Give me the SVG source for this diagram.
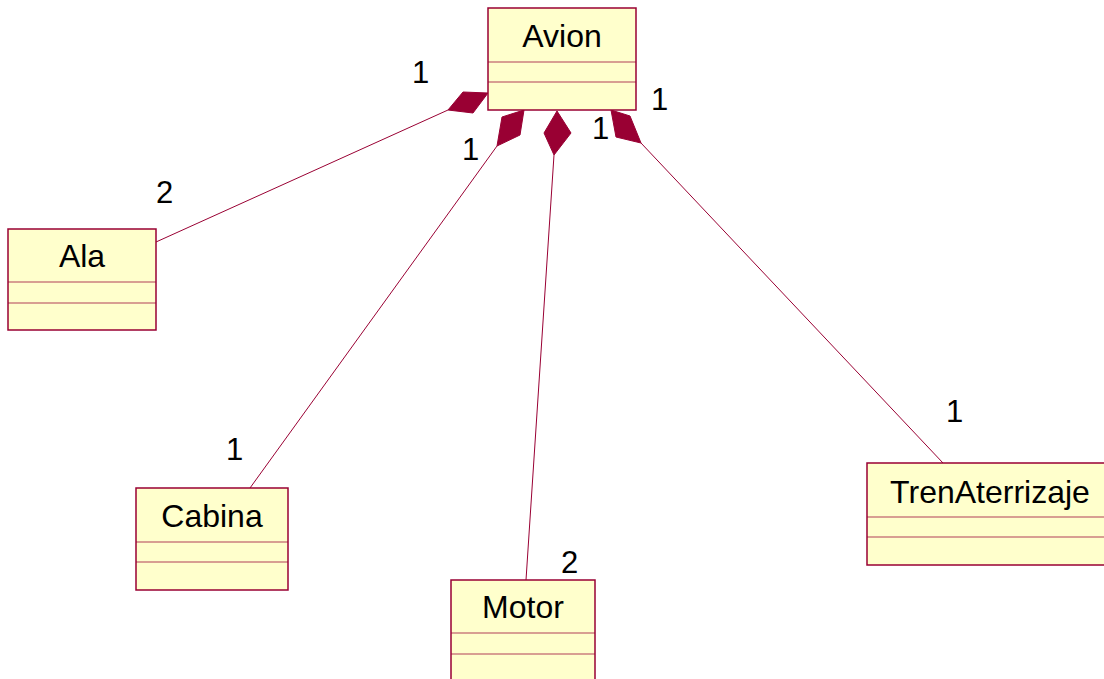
<svg xmlns="http://www.w3.org/2000/svg" width="1104" height="679" viewBox="0 0 1104 679">
<style>
.box{fill:#FFFFCC;stroke:#990033;stroke-width:1.5}
.div{stroke:#990033;stroke-width:1;opacity:0.75}
.name{font-family:"Liberation Sans",Arial,sans-serif;font-size:32px;fill:#000;text-anchor:middle}
.mult{font-family:"Liberation Sans",Arial,sans-serif;font-size:31px;fill:#000}
.link{stroke:#990033;stroke-width:1;fill:none}
.dia{fill:#990033;stroke:#990033;stroke-width:1}
</style>
<rect width="1104" height="679" fill="#FFFFFF"/>
<g id="connectors">
<line class="link" x1="448" y1="110" x2="156" y2="242"/>
<polygon class="dia" points="488,93 463,92 448,110 473,113"/>
<line class="link" x1="497" y1="146" x2="250" y2="488"/>
<polygon class="dia" points="524,110 502,117 497,146 520,135"/>
<line class="link" x1="554" y1="155" x2="526" y2="580"/>
<polygon class="dia" points="557,111 544,133 554,155 571,133"/>
<line class="link" x1="641" y1="143" x2="943" y2="463"/>
<polygon class="dia" points="611,110 616,137 641,143 630,116"/>
<text class="mult" x="412" y="83">1</text>
<text class="mult" x="156" y="203">2</text>
<text class="mult" x="462" y="160">1</text>
<text class="mult" x="592" y="139">1</text>
<text class="mult" x="651" y="110">1</text>
<text class="mult" x="226" y="460">1</text>
<text class="mult" x="561" y="573">2</text>
<text class="mult" x="946" y="422">1</text>
</g>
<g id="Avion">
<rect class="box" x="488" y="8" width="148" height="102"/>
<line class="div" x1="488" y1="62" x2="636" y2="62"/>
<line class="div" x1="488" y1="82" x2="636" y2="82"/>
<text class="name" x="562" y="47">Avion</text>
</g>
<g id="Ala">
<rect class="box" x="8" y="229" width="148" height="101"/>
<line class="div" x1="8" y1="282" x2="156" y2="282"/>
<line class="div" x1="8" y1="303" x2="156" y2="303"/>
<text class="name" x="82" y="267">Ala</text>
</g>
<g id="Cabina">
<rect class="box" x="136" y="488" width="152" height="102"/>
<line class="div" x1="136" y1="542" x2="288" y2="542"/>
<line class="div" x1="136" y1="562" x2="288" y2="562"/>
<text class="name" x="212" y="527">Cabina</text>
</g>
<g id="Motor">
<rect class="box" x="451" y="580" width="144" height="110"/>
<line class="div" x1="451" y1="633" x2="595" y2="633"/>
<line class="div" x1="451" y1="654" x2="595" y2="654"/>
<text class="name" x="523" y="618">Motor</text>
</g>
<g id="TrenAterrizaje">
<rect class="box" x="867" y="463" width="250" height="102"/>
<line class="div" x1="867" y1="517" x2="1117" y2="517"/>
<line class="div" x1="867" y1="537" x2="1117" y2="537"/>
<text class="name" x="990" y="503">TrenAterrizaje</text>
</g>
</svg>
